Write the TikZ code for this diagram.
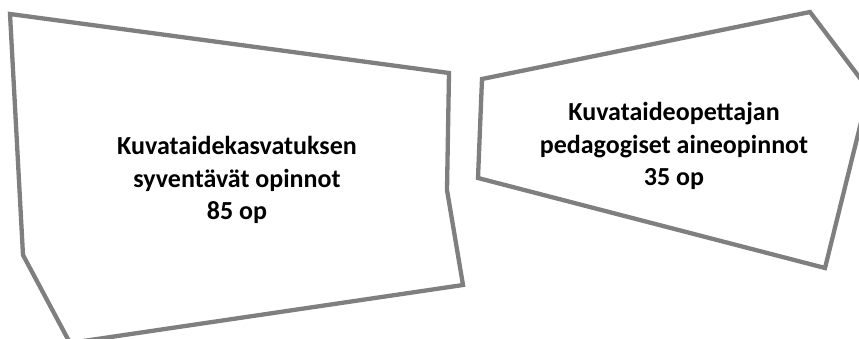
\documentclass[tikz,border=0pt]{standalone}
\usepackage{fontspec}
\setmainfont{Carlito}
\definecolor{edgegray}{RGB}{127,127,127}
\tikzset{
  shapeline/.style={draw=edgegray, line width=4.3pt, line join=miter},
  label/.style={align=center, inner sep=0pt, font=\fontsize{26}{32.5}\selectfont\bfseries, text=black}
}
\begin{document}
\begin{tikzpicture}[x=1pt,y=-1pt]
\useasboundingbox (0,0) rectangle (859,339);
\begin{scope}
\clip (0,0) rectangle (859,339);
\draw[shapeline] (10,14) -- (449,73) -- (447,190) -- (463,285) -- (70,343) -- (23,255) -- cycle;
\draw[shapeline] (482,79) -- (810,12) -- (869,90) -- (825,268) -- (478,178) -- cycle;
\end{scope}
\node[label] (left) at (237,180) {Kuvataidekasvatuksen\\syventävät opinnot\\85 op};
\node[label] (right) at (674,146) {Kuvataideopettajan\\pedagogiset aineopinnot\\35 op};
\end{tikzpicture}
\end{document}
